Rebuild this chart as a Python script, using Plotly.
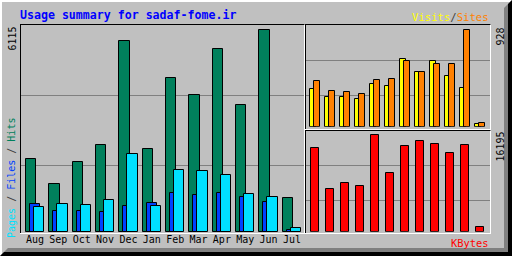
import plotly.graph_objects as go

# ---------------- data ----------------
months = ["Aug", "Sep", "Oct", "Nov", "Dec", "Jan", "Feb", "Mar", "Apr", "May", "Jun", "Jul"]
hits = [2200, 1445, 2107, 2619, 5780, 2500, 4668, 4157, 5542, 3855, 6115, 1024]
files = [843, 632, 632, 602, 783, 873, 1174, 1114, 1174, 1054, 903, 60]
pages = [753, 843, 813, 964, 2349, 783, 1867, 1837, 1717, 1145, 1054, 120]
visits = [360, 284, 284, 265, 407, 388, 653, 521, 625, 483, 369, 28]
sites = [436, 341, 331, 312, 445, 455, 634, 521, 597, 597, 928, 38]
kbytes = [14047, 7106, 8098, 7602, 16195, 9750, 14377, 15204, 14708, 13220, 14543, 826]
title_text = "Usage summary for sadaf-fome.ir"

W, H = 512, 256
def px(x): return x / W
def py(y): return 1 - y / H

C_HITS, C_FILES, C_PAGES = "#00805C", "#0040FF", "#00E0FF"
C_VIS, C_SITES, C_KB = "#FFFF00", "#FF8000", "#FF0000"
BG, DK, GRID = "#C0C0C0", "#808080", "#808080"
MONO = "DejaVu Sans Mono"

idx = list(range(len(months)))
fig = go.Figure()

def bar(y, color, offset, width, xa, ya):
    fig.add_trace(go.Bar(x=idx, y=y, offset=offset, width=width, xaxis=xa, yaxis=ya,
                         marker=dict(color=color, line=dict(color="black", width=1)),
                         hoverinfo="skip", showlegend=False))

bar(hits, C_HITS, -0.394, 0.445, "x", "y")
bar(files, C_FILES, -0.223, 0.445, "x", "y")
bar(pages, C_PAGES, -0.051, 0.445, "x", "y")
bar(visits, C_VIS, -0.347, 0.433, "x2", "y2")
bar(sites, C_SITES, -0.08, 0.433, "x2", "y2")
bar(kbytes, C_KB, -0.28, 0.56, "x3", "y3")

mp = 23.36  # main pitch px
x0m = -(35 - 20) / mp
rp = 15.0
x0r = -(315 - 305) / rp
ax_common = dict(showgrid=False, zeroline=False, showline=False, fixedrange=True)

fig.update_layout(
    width=W, height=H, margin=dict(l=0, r=0, t=0, b=0),
    paper_bgcolor=BG, plot_bgcolor="rgba(0,0,0,0)", barmode="overlay", bargap=0,
    xaxis=dict(domain=[px(20), px(305)], range=[x0m, x0m + 285 / mp], anchor="y",
               tickmode="array", tickvals=idx, ticktext=months, ticks="",
               tickfont=dict(family=MONO, size=10, color="black"), **ax_common),
    yaxis=dict(domain=[py(232), py(25)], range=[0, max(hits) * 207 / 202.2],
               showticklabels=False, anchor="x", **ax_common),
    xaxis2=dict(domain=[px(305), px(491)], range=[x0r, x0r + 186 / rp], anchor="y2",
                showticklabels=False, **ax_common),
    yaxis2=dict(domain=[py(126.8), py(25)], range=[0, max(sites) * 101.8 / 97],
                showticklabels=False, anchor="x2", **ax_common),
    xaxis3=dict(domain=[px(305), px(491)], range=[x0r, x0r + 186 / rp], anchor="y3",
                showticklabels=False, **ax_common),
    yaxis3=dict(domain=[py(231.8), py(130)], range=[0, max(kbytes) * 101.8 / 97],
                showticklabels=False, anchor="x3", **ax_common),
)

shapes = []
def hline(y, xa, xb, color, layer="above"):
    shapes.append(dict(type="line", xref="paper", yref="paper", x0=px(xa), x1=px(xb),
                       y0=py(y), y1=py(y), line=dict(color=color, width=1), layer=layer))
def vline(x, ya, yb, color, layer="above"):
    shapes.append(dict(type="line", xref="paper", yref="paper", x0=px(x), x1=px(x),
                       y0=py(ya), y1=py(yb), line=dict(color=color, width=1), layer=layer))
def poly(pts, color):
    d = "M " + " L ".join(f"{px(a):.5f},{py(b):.5f}" for a, b in pts) + " Z"
    shapes.append(dict(type="path", xref="paper", yref="paper", path=d,
                       fillcolor=color, line=dict(width=0), layer="above"))

# gridlines
for y in (95.5, 165.5):
    hline(y, 21, 304, GRID, "below")
for y in (60.5, 95.5):
    hline(y, 306, 490, GRID, "below")
for y in (165.5, 200.5):
    hline(y, 306, 490, GRID, "below")

# panel borders (inset look)
hline(24.5, 20, 305, "black"); vline(20.5, 24.5, 234, "black")
hline(233.5, 20, 305, "white"); vline(304.5, 24.5, 234, "white")
hline(24.5, 305, 491, "black"); vline(305.5, 24.5, 129.5, "black")
hline(129.5, 305, 491, "white"); vline(490.5, 24.5, 129.5, "white")
hline(130.5, 305, 491, "black"); vline(305.5, 130.5, 234, "black")
hline(233.5, 305, 491, "white"); vline(490.5, 130.5, 234, "white")

# outer frame (raised)
poly([(0, 0), (512, 0), (510, 2), (2, 2), (2, 254), (0, 256)], "white")
poly([(512, 0), (512, 256), (0, 256), (4, 252), (508, 252), (508, 4)], "black")
poly([(508, 4), (508, 252), (4, 252), (8, 248), (504, 248), (504, 8)], DK)
fig.update_layout(shapes=shapes)

ann = []
def text(t, x, y, color, size=10, xanchor="center", yanchor="middle", angle=0, bold=False):
    base = dict(xref="paper", yref="paper", showarrow=False, xanchor=xanchor, yanchor=yanchor,
                textangle=angle, borderpad=0)
    tt = f"<b>{t}</b>" if bold else t
    ann.append(dict(text=tt, x=px(x), y=py(y), font=dict(family=MONO, size=size, color=color), **base))

text(title_text, 19, 15, "#0000FF", size=11.6, xanchor="left", bold=True)
text(f'<span style="color:{C_VIS}">Visits</span><span style="color:#404040">/</span>'
     f'<span style="color:{C_SITES}">Sites</span>', 490, 17, C_VIS, size=10.6, xanchor="right")
text(f'<span style="color:{C_PAGES}">Pages</span><span style="color:#404040"> / </span>'
     f'<span style="color:{C_FILES}">Files</span><span style="color:#404040"> / </span>'
     f'<span style="color:{C_HITS}">Hits</span>', 11.5, 178.5, C_PAGES, angle=-90)
text(f'<span style="color:{C_KB}">KBytes</span>', 490, 243, C_KB, size=10.4, xanchor="right")
text(str(max(hits)), 11.5, 39, "black", angle=-90)
text(str(max(sites)), 499.5, 37, "black", angle=-90)
text(str(max(kbytes)), 499.5, 147, "black", angle=-90)
fig.update_layout(annotations=ann)

fig.write_html("out.html")
